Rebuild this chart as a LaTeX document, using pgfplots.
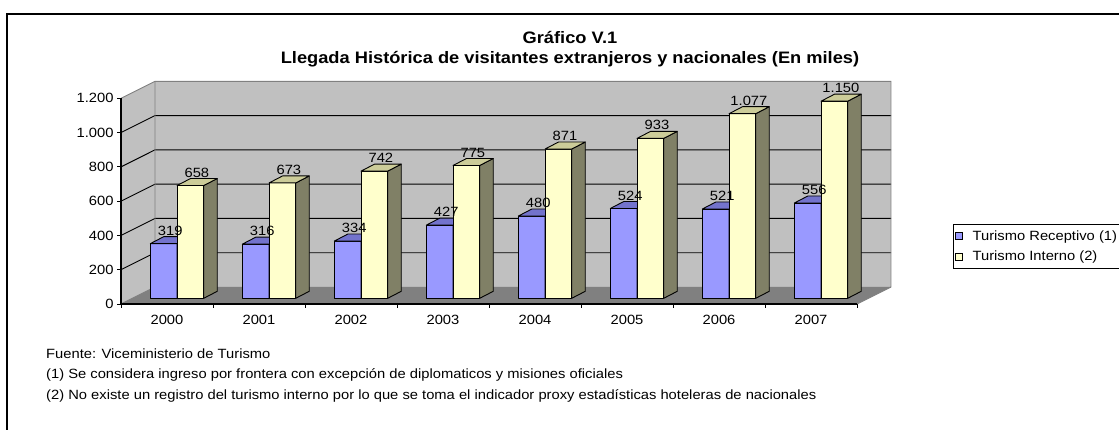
\documentclass[border=0pt]{standalone}
\usepackage{pgfplots}
\pgfplotsset{compat=1.18}
\usepackage{pgfplotstable}
\usepackage{fontspec}
\setmainfont{Liberation Sans}[FakeStretch=1.1]

\definecolor{bluef}{HTML}{9999FF}
\definecolor{bluet}{HTML}{7373CC}
\definecolor{blues}{HTML}{4D4D80}
\definecolor{yelf}{HTML}{FFFFCC}
\definecolor{yelt}{HTML}{CCCC99}
\definecolor{yels}{HTML}{808066}
\definecolor{wallc}{HTML}{C0C0C0}
\definecolor{floorc}{HTML}{808080}
\definecolor{edgec}{HTML}{808080}

\pgfplotstableread{
x  rec  int
0  319  658
1  316  673
2  334  742
3  427  775
4  480  871
5  524  933
6  521  1077
7  556  1150
}\datatable

\pgfdeclareplotmark{nothing}{}
\def\bw{26.7}
\def\ddx{13.5}
\def\ddy{7}
\def\yu{0.1714}
\def\lift{5.7}

\pgfplotsset{
  prism/.style n args={4}{% front, top, side, shift
    scatter, only marks, mark=nothing, forget plot,
    visualization depends on={rawy \as \val},
    scatter/@pre marker code/.code={%
      \pgfmathsetmacro\hh{\val*\yu}%
      \pgfmathsetmacro\xl{#4-\bw/2}%
      \pgfmathsetmacro\xr{#4+\bw/2}%
      \pgfmathsetmacro\yt{\lift}%
      \pgfmathsetmacro\yb{\lift-\hh}%
      \filldraw[fill=#1, draw=black, line width=0.9pt, line join=round]
        (\xl pt,\yb pt) rectangle (\xr pt,\yt pt);
      \filldraw[fill=#3, draw=black, line width=0.9pt, line join=round]
        (\xr pt,\yb pt) -- (\xr pt+\ddx pt,\yb pt+\ddy pt) -- (\xr pt+\ddx pt,\yt pt+\ddy pt) -- (\xr pt,\yt pt) -- cycle;
      \filldraw[fill=#2, draw=black, line width=0.9pt, line join=round]
        (\xl pt,\yt pt) -- (\xr pt,\yt pt) -- (\xr pt+\ddx pt,\yt pt+\ddy pt) -- (\xl pt+\ddx pt,\yt pt+\ddy pt) -- cycle;
    },
    scatter/@post marker code/.code={},
  },
  vlabel/.style={% shift
    scatter, only marks, mark=nothing, forget plot,
    visualization depends on={rawy \as \val},
    scatter/@pre marker code/.code={%
      \node[text=black, anchor=center, inner sep=0pt, font=\fontsize{13.4}{15}\selectfont]
        at (#1pt+6.5pt,\lift pt+13pt)
        {\pgfmathprintnumber[1000 sep={.}, assume math mode=true, fixed, precision=0]{\val}};
    },
    scatter/@post marker code/.code={},
  },
}

\begin{document}
\begin{tikzpicture}
\useasboundingbox (0,0) rectangle (1119pt,430pt);
\draw[line width=1.2pt] (7pt,-20pt) -- (7pt,416pt) -- (1140pt,416pt);

\node[font=\fontsize{16.6}{18}\selectfont\bfseries] at (570pt,392pt) {Gráfico V.1};
\node[font=\fontsize{16.6}{18}\selectfont\bfseries] at (570pt,371pt)
  {Llegada Histórica de visitantes extranjeros y nacionales (En miles)};

\begin{axis}[
  at={(121pt,126pt)}, anchor=south west,
  x=92pt, y=0.1714pt,
  xmin=-0.5, xmax=7.5, ymin=0, ymax=1200,
  clip=false,
  axis lines*=left,
  axis line style={-, line width=1.2pt, black},
  axis on top,
  xtick={0,...,7},
  xticklabels={2000,2001,2002,2003,2004,2005,2006,2007},
  minor xtick={-0.5,0.5,...,7.5},
  major x tick style={draw=none},
  ytick={0,200,...,1200},
  yticklabels={0,200,400,600,800,1.000,1.200},
  tick align=outside,
  major tick length=4pt, minor tick length=4pt,
  tick style={black, line width=0.9pt},
  ticklabel style={font=\fontsize{13.4}{15}\selectfont},
  xticklabel style={yshift=-4pt},
  legend image code/.code={\draw[#1] (0pt,-3.5pt) rectangle (7pt,3.5pt); \path (14.5pt,0pt);},
  legend style={at={(1.1304,0.3875)}, anchor=north west, draw=black,
    line width=0.9pt, fill=white, font=\fontsize{13.4}{15}\selectfont,
    row sep=5pt, inner xsep=2pt, inner ysep=4pt},
  legend cell align=left,
]
% walls
\fill[wallc] (axis cs:-0.1304,99.2) rectangle (axis cs:7.8696,1299.2);
\fill[wallc] (axis cs:-0.5,0) -- (axis cs:-0.1304,99.2) -- (axis cs:-0.1304,1299.2) -- (axis cs:-0.5,1200) -- cycle;
\fill[floorc] (axis cs:-0.5,0) -- (axis cs:7.5,0) -- (axis cs:7.8696,99.2) -- (axis cs:-0.1304,99.2) -- cycle;
\draw[black, line width=0.9pt] (axis cs:-0.5,200) -- (axis cs:-0.1304,299.2) -- (axis cs:7.8696,299.2);
\draw[black, line width=0.9pt] (axis cs:-0.5,400) -- (axis cs:-0.1304,499.2) -- (axis cs:7.8696,499.2);
\draw[black, line width=0.9pt] (axis cs:-0.5,600) -- (axis cs:-0.1304,699.2) -- (axis cs:7.8696,699.2);
\draw[black, line width=0.9pt] (axis cs:-0.5,800) -- (axis cs:-0.1304,899.2) -- (axis cs:7.8696,899.2);
\draw[black, line width=0.9pt] (axis cs:-0.5,1000) -- (axis cs:-0.1304,1099.2) -- (axis cs:7.8696,1099.2);
\draw[edgec, line width=0.9pt] (axis cs:-0.5,1200) -- (axis cs:-0.1304,1299.2) -- (axis cs:7.8696,1299.2) -- (axis cs:7.8696,99.2) -- (axis cs:7.5,0);
\draw[edgec, line width=0.9pt] (axis cs:-0.1304,1299.2) -- (axis cs:-0.1304,99.2) -- (axis cs:-0.5,0);
\draw[edgec, line width=0.9pt] (axis cs:-0.1304,99.2) -- (axis cs:7.8696,99.2);

% bars (3D columns drawn at each data point)
\addplot[prism={bluef}{bluet}{blues}{-3.3}] table[x=x,y=rec]{\datatable};
\addplot[prism={yelf}{yelt}{yels}{23.4}] table[x=x,y=int]{\datatable};
% data labels
\addplot[vlabel=-3.3] table[x=x,y=rec]{\datatable};
\addplot[vlabel=23.4] table[x=x,y=int]{\datatable};

\addlegendimage{fill=bluef, draw=black, line width=0.7pt}
\addlegendentry{Turismo Receptivo (1)}
\addlegendimage{fill=yelf, draw=black, line width=0.7pt}
\addlegendentry{Turismo Interno (2)}
\end{axis}

\node[anchor=west, inner sep=0pt, font=\fontsize{13.4}{15}\selectfont] at (46pt,76pt) {Fuente: Viceministerio de Turismo};
\node[anchor=west, inner sep=0pt, font=\fontsize{13.4}{15}\selectfont] at (46pt,55pt) {(1) Se considera ingreso por frontera con excepción de diplomaticos y misiones oficiales};
\node[anchor=west, inner sep=0pt, font=\fontsize{13.4}{15}\selectfont] at (46pt,34pt) {(2) No existe un registro del turismo interno por lo que se toma el indicador proxy estadísticas hoteleras de nacionales};
\end{tikzpicture}
\end{document}
